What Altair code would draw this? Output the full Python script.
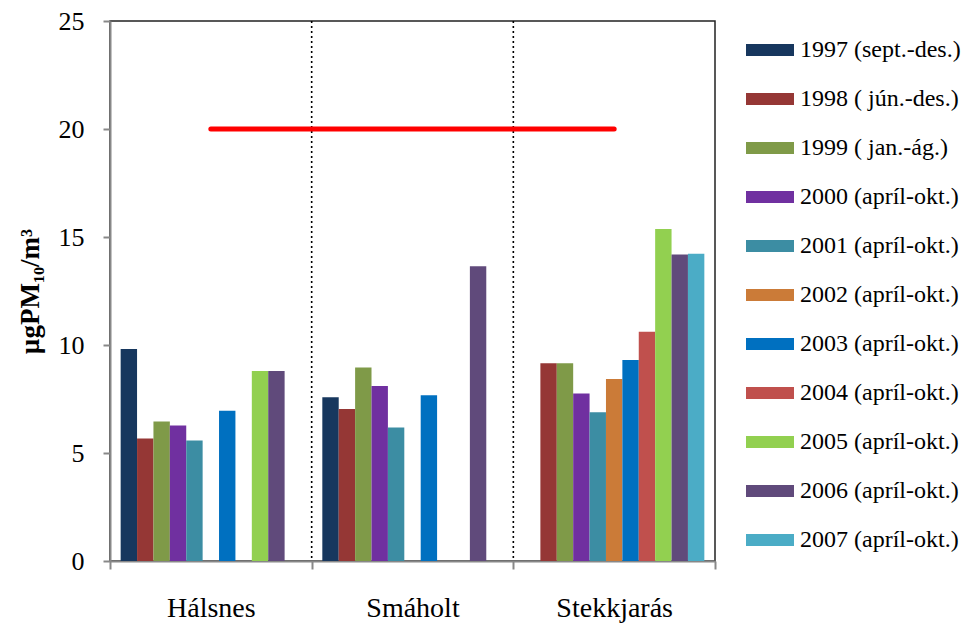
import altair as alt
import pandas as pd

sites = ["Hálsnes", "Smáholt", "Stekkjarás"]
series = [
    "1997 (sept.-des.)",
    "1998 ( jún.-des.)",
    "1999 ( jan.-ág.)",
    "2000 (apríl-okt.)",
    "2001 (apríl-okt.)",
    "2002 (apríl-okt.)",
    "2003 (apríl-okt.)",
    "2004 (apríl-okt.)",
    "2005 (apríl-okt.)",
    "2006 (apríl-okt.)",
    "2007 (apríl-okt.)",
]
colors = ["#17375E", "#953735", "#7F9A48", "#7030A0", "#3C8DA3", "#CB7B38",
          "#0070C0", "#C0504D", "#92D050", "#604A7B", "#4BACC6"]

halsnes = [9.82, 5.67, 6.46, 6.27, 5.58, None, 6.96, None, 8.80, 8.80, None]
smaholt = [7.58, 7.04, 8.96, 8.10, 6.18, None, 7.67, None, None, 13.65, None]
stekkjaras = [None, 9.15, 9.15, 7.76, 6.89, 8.43, 9.30, 10.61, 15.37, 14.19, 14.22]

limit_sites = ["Hálsnes", "Stekkjarás"]
limit_value = 20
y_ticks = [0, 5, 10, 15, 20, 25]

rows = []
for site, vals in zip(sites, [halsnes, smaholt, stekkjaras]):
    for s, v in zip(series, vals):
        if v is not None:
            rows.append({"site": site, "series": s, "value": v})
df = pd.DataFrame(rows)
limit_df = pd.DataFrame({"site": limit_sites, "value": [limit_value] * len(limit_sites)})
sep_df = pd.DataFrame({"site": sites[1:]})

FONT = "Liberation Serif"

x_scale = alt.Scale(domain=sites, paddingInner=0, paddingOuter=0)
y_scale = alt.Scale(domain=[0, 25])

bars = alt.Chart(df).mark_bar().encode(
    x=alt.X("site:N", scale=x_scale, sort=sites,
            axis=alt.Axis(title=None, labelFont=FONT, labelFontSize=28, labelColor="black",
                          labelAlign="center", labelBaseline="alphabetic",
                          tickBand="extent", tickSize=8, tickColor="#888", tickWidth=2,
                          domainColor="#888", domainWidth=2, labelPadding=47, labelAngle=0)),
    xOffset=alt.XOffset("series:N", scale=alt.Scale(domain=series, paddingInner=0, paddingOuter=0.65)),
    y=alt.Y("value:Q", scale=y_scale,
            axis=alt.Axis(values=y_ticks, grid=False, title="µgPM₁₀/m³",
                          titleFont=FONT, titleFontSize=27, titleFontWeight="bold", titleColor="black",
                          titlePadding=14,
                          labelFont=FONT, labelFontSize=26, labelColor="black", labelPadding=19,
                          tickSize=7, tickColor="#888", tickWidth=2,
                          domainColor="#888", domainWidth=2)),
    color=alt.Color("series:N", scale=alt.Scale(domain=series, range=colors),
                    legend=alt.Legend(title=None, orient="none", legendX=636, legendY=5,
                                      symbolType="M-1,-0.25H1V0.25H-1Z", symbolSize=2304,
                                      symbolStrokeWidth=0, symbolOpacity=1,
                                      labelFont=FONT, labelFontSize=24, labelColor="black",
                                      labelOffset=6, rowPadding=13, labelLimit=300)),
)

seps = alt.Chart(sep_df).mark_rule(color="black", strokeDash=[2, 3], strokeWidth=1.6).encode(
    x=alt.X("site:N", bandPosition=0, scale=x_scale, sort=sites)
)

limit = alt.Chart(limit_df).mark_line(color="#FF0000", strokeWidth=5, strokeCap="round").encode(
    x=alt.X("site:N", scale=x_scale, sort=sites),
    y=alt.Y("value:Q", scale=y_scale),
)

chart = alt.layer(seps, bars, limit).properties(
    width=605, height=540,
    autosize=alt.AutoSizeParams(type="none"),
    padding={"left": 102, "top": 13, "right": 246, "bottom": 62},
).configure_view(stroke="#222", strokeWidth=1.5)

chart.save("out.html", embed_options={"renderer": "svg", "actions": False})
